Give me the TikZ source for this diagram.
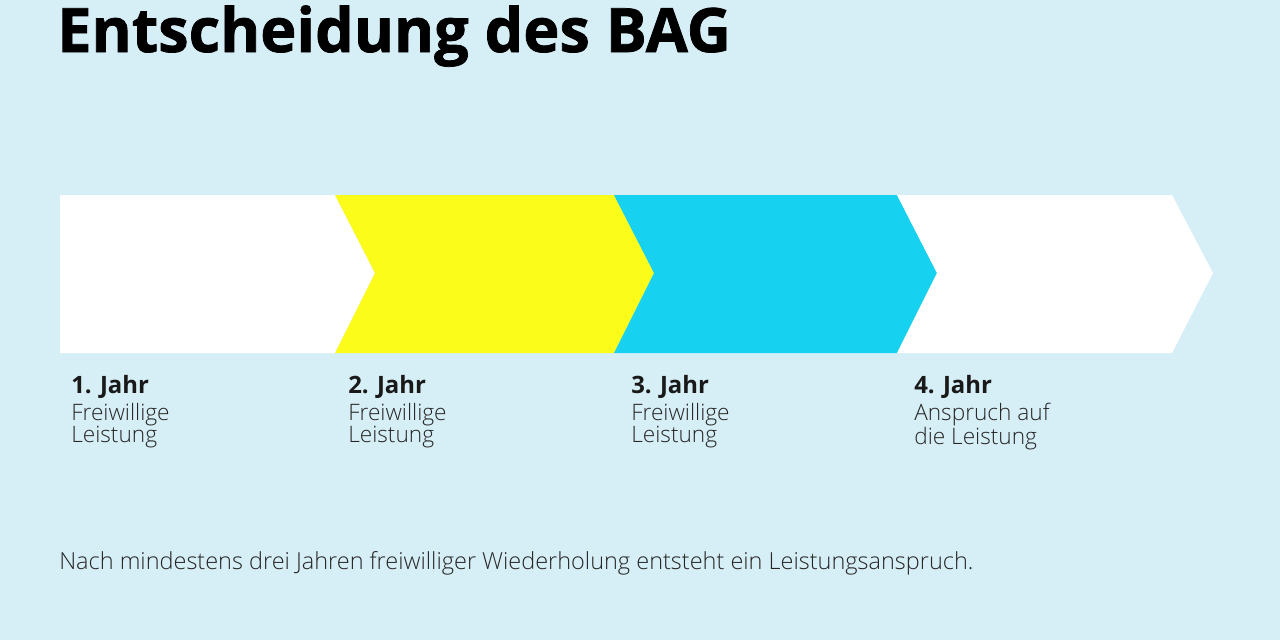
\documentclass[tikz,border=0pt]{standalone}
\usepackage{fontspec}
\setmainfont{Open Sans}
\newfontfamily\lightfont{Open Sans Light}
\newfontfamily\heavyfont[BoldFeatures={FakeBold=1.2}]{Open Sans}
\definecolor{bgblue}{HTML}{D6EEF5}
\definecolor{bagyellow}{HTML}{FCFC1A}
\definecolor{bagcyan}{HTML}{16D2F0}
\tikzset{
  chevron/.style={fill=#1, draw=none},
  yearlabel/.style={anchor=base west, inner sep=0pt, font=\fontsize{17}{20}\selectfont\bfseries, text=black!90},
  yeartext/.style={anchor=north west, inner sep=0pt, align=left, font=\lightfont\fontsize{16.1}{15.8}\selectfont, text=black!85},
}
\begin{document}
\begin{tikzpicture}[x=0.025cm, y=-0.025cm]
  \fill[bgblue] (0,0) rectangle (1280,640);
  \useasboundingbox (0,0) rectangle (1280,640);
  \node[anchor=base west, inner sep=0pt, font=\heavyfont\bfseries\fontsize{43.5}{50}\selectfont] (title) at (57,52) {Entscheidung des BAG};
  % chevrons
  \fill[chevron=white] (60,195) -- (335,195) -- (375,273) -- (335,353) -- (60,353) -- cycle;
  \fill[chevron=bagyellow] (335,195) -- (614,195) -- (654,273) -- (614,353) -- (335,353) -- (375,273) -- cycle;
  \fill[chevron=bagcyan] (614,195) -- (897,195) -- (937,273) -- (897,353) -- (614,353) -- (654,273) -- cycle;
  \fill[chevron=white] (897,195) -- (1172,195) -- (1213,273) -- (1172,353) -- (897,353) -- (937,273) -- cycle;
  % labels
  \node[yearlabel] (y1) at (71,393) {1. Jahr};
  \node[yearlabel] (y2) at (348,393) {2. Jahr};
  \node[yearlabel] (y3) at (631,393) {3. Jahr};
  \node[yearlabel] (y4) at (914,393) {4. Jahr};
  \node[yeartext] (t1) at (71,403) {Freiwillige\\Leistung};
  \node[yeartext] (t2) at (348,403) {Freiwillige\\Leistung};
  \node[yeartext] (t3) at (631,403) {Freiwillige\\Leistung};
  \node[yeartext] (t4) at (914,403) {Anspruch auf\\die Leistung};
  \node[anchor=base west, inner sep=0pt, font=\lightfont\fontsize{16.7}{18}\selectfont, text=black!85] (note) at (59,569) {Nach mindestens drei Jahren freiwilliger Wiederholung entsteht ein Leistungsanspruch.};
\end{tikzpicture}
\end{document}
